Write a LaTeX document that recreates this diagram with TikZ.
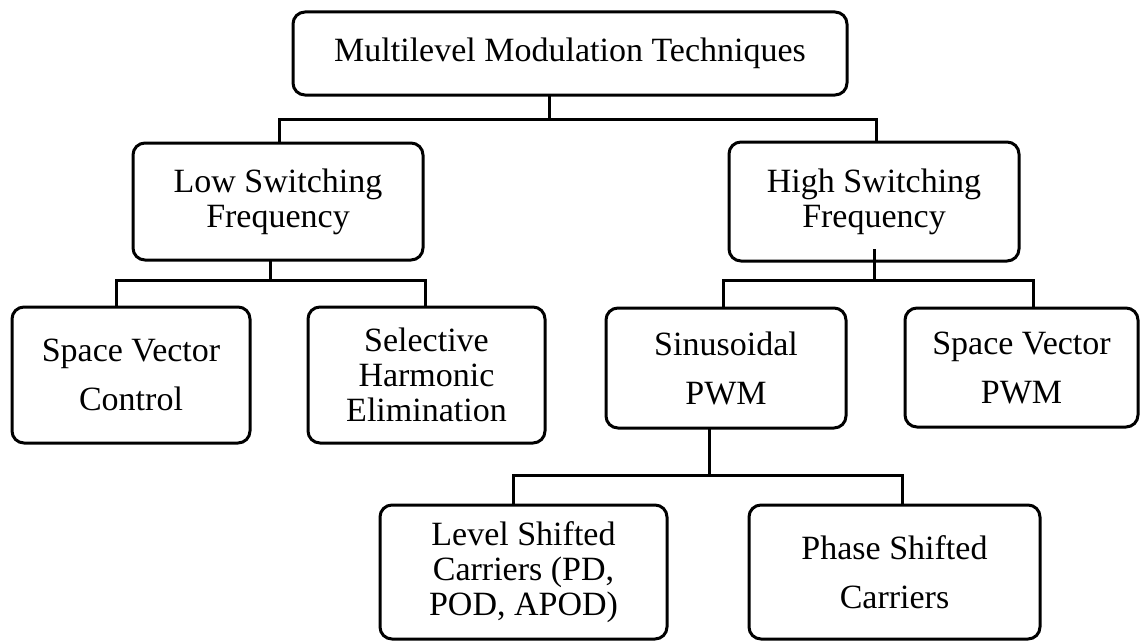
\documentclass[tikz,border=0pt]{standalone}
\usepackage{fontspec}
\setmainfont{Liberation Serif}
\usetikzlibrary{calc}
\begin{document}
\begin{tikzpicture}[x=1pt,y=-1pt,
  box/.style={draw,line width=3pt,rounded corners=12pt,inner sep=0pt,outer sep=0pt,align=center,font=\fontsize{34}{35}\selectfont},
  loose/.style={font=\fontsize{34}{49}\selectfont},
  link/.style={line width=3pt}]
\useasboundingbox (0,0) rectangle (1140,642);
% nodes
\node[box,minimum width=554pt,minimum height=83pt] (top) at (570,53.5) {Multilevel Modulation Techniques};
\node[box,minimum width=290pt,minimum height=117pt] (low) at (278,201.5) {Low Switching\\Frequency};
\node[box,minimum width=290pt,minimum height=119pt] (high) at (874,201.5) {High Switching\\Frequency};
\node[box,loose,minimum width=238pt,minimum height=136pt] (svc) at (131,375) {Space Vector\\Control};
\node[box,minimum width=237pt,minimum height=136pt] (she) at (426.5,375) {Selective\\Harmonic\\Elimination};
\node[box,loose,minimum width=240pt,minimum height=120pt] (sin) at (726,368) {Sinusoidal\\PWM};
\node[box,loose,minimum width=233pt,minimum height=119pt] (svp) at (1021.5,367.5) {Space Vector\\PWM};
\node[box,minimum width=287pt,minimum height=134pt] (lsc) at (523.5,572) {Level Shifted\\Carriers (PD,\\POD, APOD)};
\node[box,loose,minimum width=291pt,minimum height=134pt] (psc) at (894.5,572) {Phase Shifted\\Carriers};
% junction coordinates
\coordinate (ja) at (549,119);
\coordinate (la) at (279,119);
\coordinate (ra) at (876,119);
\coordinate (lb) at (270,280);
\coordinate (lbl) at (116,280);
\coordinate (lbr) at (425,280);
\coordinate (hb) at (874,282);
\coordinate (hbl) at (723,280);
\coordinate (hbr) at (1033,280);
\coordinate (sb) at (709,475);
\coordinate (sbl) at (513,475);
\coordinate (sbr) at (902,475);
% connectors
\draw[link] (top.south -| ja) -- (ja);
\draw[link] (low.north -| la) -- (la) -- (ra) -- (high.north -| ra);
\draw[link] (low.south -| lb) -- (lb);
\draw[link] (svc.north -| lbl) -- (lbl) -- (lbr) -- (she.north -| lbr);
\draw[link] ($(high.south)+(0,-12)$) -- (hb);
\draw[link] (sin.north -| hbl) -- (hbl) -- (hbr) -- (svp.north -| hbr);
\draw[link] (sin.south -| sb) -- (sb);
\draw[link] (lsc.north -| sbl) -- (sbl) -- (sbr) -- (psc.north -| sbr);
\end{tikzpicture}
\end{document}
